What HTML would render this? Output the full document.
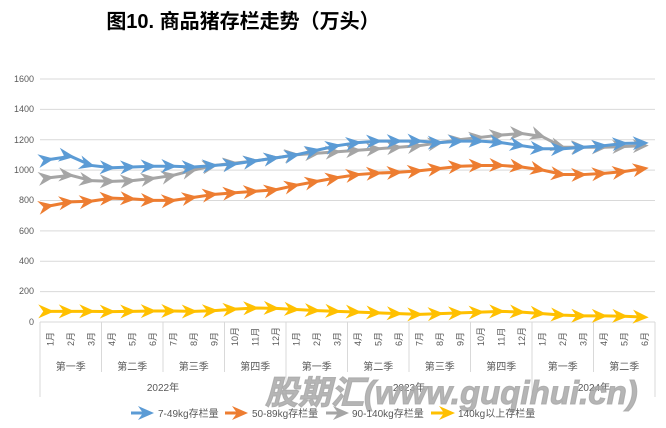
<!DOCTYPE html>
<html><head><meta charset="utf-8"><style>
body{margin:0;background:#fff;}
svg text{font-family:"Liberation Sans","Noto Sans CJK SC",sans-serif;}
</style></head><body>
<svg id="s" width="666" height="423" viewBox="0 0 666 423" xmlns="http://www.w3.org/2000/svg">
<defs>
<marker id="mb" viewBox="-13 -8 17 16" markerWidth="17" markerHeight="16" markerUnits="userSpaceOnUse" refX="0" refY="0" orient="auto"><path d="M-12,-7 L4,0 L-12,7 L-7,0 Z" fill="#5b9bd5"/></marker>
<marker id="mo" viewBox="-13 -8 17 16" markerWidth="17" markerHeight="16" markerUnits="userSpaceOnUse" refX="0" refY="0" orient="auto"><path d="M-12,-7 L4,0 L-12,7 L-7,0 Z" fill="#ed7d31"/></marker>
<marker id="mg" viewBox="-13 -8 17 16" markerWidth="17" markerHeight="16" markerUnits="userSpaceOnUse" refX="0" refY="0" orient="auto"><path d="M-12,-7 L4,0 L-12,7 L-7,0 Z" fill="#a5a5a5"/></marker>
<marker id="my" viewBox="-13 -8 17 16" markerWidth="17" markerHeight="16" markerUnits="userSpaceOnUse" refX="0" refY="0" orient="auto"><path d="M-12,-7 L4,0 L-12,7 L-7,0 Z" fill="#ffc000"/></marker>
</defs>
<text x="243" y="28" font-size="20" font-weight="bold" text-anchor="middle" fill="#000">图10. 商品猪存栏走势（万头）</text>
<g stroke="#d9d9d9" stroke-width="1">
<line x1="40" y1="79" x2="655" y2="79"/><line x1="40" y1="109.4" x2="655" y2="109.4"/><line x1="40" y1="139.8" x2="655" y2="139.8"/><line x1="40" y1="170.1" x2="655" y2="170.1"/><line x1="40" y1="200.5" x2="655" y2="200.5"/><line x1="40" y1="230.9" x2="655" y2="230.9"/><line x1="40" y1="261.3" x2="655" y2="261.3"/><line x1="40" y1="291.6" x2="655" y2="291.6"/><line x1="40" y1="322" x2="655" y2="322"/>
<line x1="40" y1="322" x2="40" y2="397"/><line x1="286" y1="322" x2="286" y2="397"/><line x1="532" y1="322" x2="532" y2="397"/><line x1="655" y1="322" x2="655" y2="397"/>
<line x1="101.5" y1="322" x2="101.5" y2="372"/><line x1="163" y1="322" x2="163" y2="372"/><line x1="224.5" y1="322" x2="224.5" y2="372"/><line x1="347.5" y1="322" x2="347.5" y2="372"/><line x1="409" y1="322" x2="409" y2="372"/><line x1="470.5" y1="322" x2="470.5" y2="372"/><line x1="593.5" y1="322" x2="593.5" y2="372"/>
</g>
<g font-size="9" fill="#595959" text-anchor="end">
<text x="34" y="82">1600</text><text x="34" y="112">1400</text><text x="34" y="143">1200</text><text x="34" y="173">1000</text><text x="34" y="203">800</text><text x="34" y="234">600</text><text x="34" y="264">400</text><text x="34" y="294">200</text><text x="34" y="325">0</text>
</g>
<g font-size="9" fill="#595959">
<text transform="translate(53.5,346) rotate(-90)">1月</text><text transform="translate(74,346) rotate(-90)">2月</text><text transform="translate(94.5,346) rotate(-90)">3月</text>
<text transform="translate(115,346) rotate(-90)">4月</text><text transform="translate(135.5,346) rotate(-90)">5月</text><text transform="translate(156,346) rotate(-90)">6月</text>
<text transform="translate(176.5,346) rotate(-90)">7月</text><text transform="translate(197,346) rotate(-90)">8月</text><text transform="translate(217.5,346) rotate(-90)">9月</text>
<text transform="translate(238,346) rotate(-90)">10月</text><text transform="translate(258.5,346) rotate(-90)">11月</text><text transform="translate(279,346) rotate(-90)">12月</text>
<text transform="translate(299.5,346) rotate(-90)">1月</text><text transform="translate(320,346) rotate(-90)">2月</text><text transform="translate(340.5,346) rotate(-90)">3月</text>
<text transform="translate(361,346) rotate(-90)">4月</text><text transform="translate(381.5,346) rotate(-90)">5月</text><text transform="translate(402,346) rotate(-90)">6月</text>
<text transform="translate(422.5,346) rotate(-90)">7月</text><text transform="translate(443,346) rotate(-90)">8月</text><text transform="translate(463.5,346) rotate(-90)">9月</text>
<text transform="translate(484,346) rotate(-90)">10月</text><text transform="translate(504.5,346) rotate(-90)">11月</text><text transform="translate(525,346) rotate(-90)">12月</text>
<text transform="translate(545.5,346) rotate(-90)">1月</text><text transform="translate(566,346) rotate(-90)">2月</text><text transform="translate(586.5,346) rotate(-90)">3月</text>
<text transform="translate(607,346) rotate(-90)">4月</text><text transform="translate(627.5,346) rotate(-90)">5月</text><text transform="translate(648,346) rotate(-90)">6月</text>
</g>
<g font-size="10" fill="#595959" text-anchor="middle">
<text x="70.75" y="370">第一季</text><text x="132.25" y="370">第二季</text><text x="193.75" y="370">第三季</text><text x="255.25" y="370">第四季</text>
<text x="316.75" y="370">第一季</text><text x="378.25" y="370">第二季</text><text x="439.75" y="370">第三季</text><text x="501.25" y="370">第四季</text>
<text x="562.75" y="370">第一季</text><text x="624.25" y="370">第二季</text>
<text x="163" y="391">2022年</text><text x="409" y="391">2023年</text><text x="594" y="391">2024年</text>
</g>
<g id="series"></g>
<text x="265" y="404" font-size="33" font-weight="bold" font-style="italic" fill="#a8a8a8" fill-opacity="0.85" stroke="#a8a8a8" stroke-width="1" stroke-opacity="0.85">股期汇(www.guqihui.cn)</text>
<g font-size="10" fill="#595959">
<line x1="131" y1="413" x2="150" y2="413" stroke="#5b9bd5" stroke-width="3" marker-end="url(#mb)"/><text x="158" y="417">7-49kg存栏量</text>
<line x1="225" y1="413" x2="244" y2="413" stroke="#ed7d31" stroke-width="3" marker-end="url(#mo)"/><text x="252" y="417">50-89kg存栏量</text>
<line x1="326" y1="413" x2="345" y2="413" stroke="#a5a5a5" stroke-width="3" marker-end="url(#mg)"/><text x="352" y="417">90-140kg存栏量</text>
<line x1="431" y1="413" x2="451" y2="413" stroke="#ffc000" stroke-width="3" marker-end="url(#my)"/><text x="458" y="417">140kg以上存栏量</text>
</g>
</svg>
<script>
var data={
my:["#ffc000",[70,70,70,68,70,72,72,70,75,85,92,90,82,75,70,65,60,55,50,55,60,65,70,65,55,45,40,40,38,32]],
mo:["#ed7d31",[765,790,795,815,810,800,800,820,840,850,860,870,900,925,950,970,980,985,995,1010,1025,1030,1030,1020,1000,970,970,978,990,1010]],
mg:["#a5a5a5",[950,965,930,925,930,945,965,1000,1030,1045,1060,1080,1100,1110,1120,1130,1140,1150,1160,1180,1200,1215,1230,1240,1220,1150,1150,1150,1155,1160]],
mb:["#5b9bd5",[1070,1090,1030,1015,1020,1025,1025,1020,1030,1040,1060,1080,1100,1130,1160,1180,1190,1190,1190,1180,1190,1190,1180,1160,1140,1140,1150,1160,1175,1178]]};
var g=document.getElementById('series'),ns="http://www.w3.org/2000/svg";
for(var k in data){var c=data[k][0],v=data[k][1],p=[];
for(var i=0;i<v.length;i++)p.push((50.25+20.5*i).toFixed(2)+","+(322-v[i]*0.152).toFixed(2));
var pl=document.createElementNS(ns,"polyline");pl.setAttribute("points",p.join(" "));
pl.setAttribute("fill","none");pl.setAttribute("stroke",c);pl.setAttribute("stroke-width","3");
pl.setAttribute("marker-mid","url(#"+k+")");pl.setAttribute("marker-end","url(#"+k+")");pl.setAttribute("marker-start","url(#"+k+")");
g.appendChild(pl);}
</script>
</body></html>
